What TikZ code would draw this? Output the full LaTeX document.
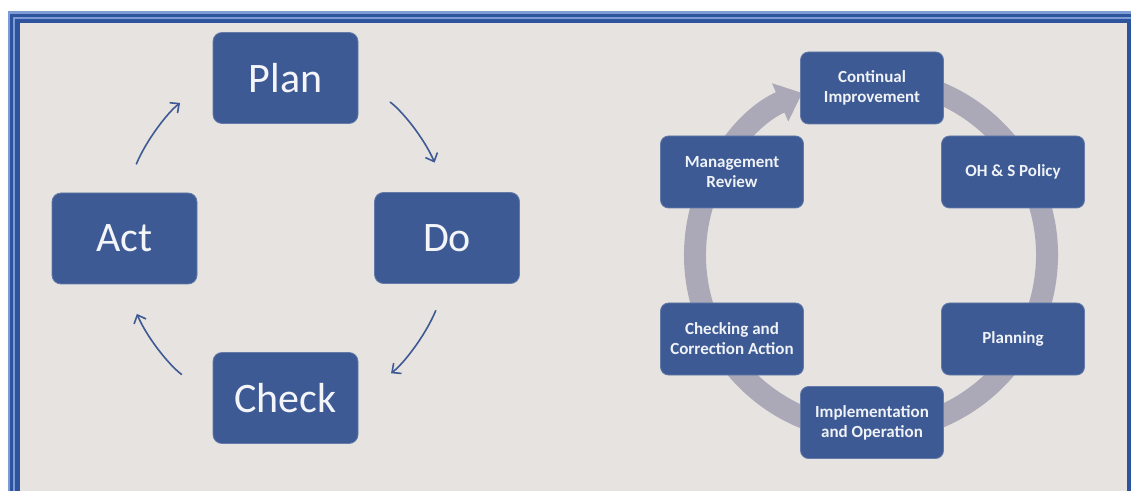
\documentclass[tikz,border=0pt]{standalone}
\usepackage{fontspec}
\setmainfont{Carlito}
\usetikzlibrary{arrows.meta}
\definecolor{boxblue}{RGB}{61,90,148}
\definecolor{ringgray}{RGB}{171,169,184}
\definecolor{paper}{RGB}{231,227,224}
\definecolor{frameblue}{RGB}{46,84,158}
\definecolor{framelight}{RGB}{125,155,212}

\begin{document}
\begin{tikzpicture}[x=1pt,y=1pt,>={Straight Barb[length=7pt,width=13pt]},
    bigbox/.style={fill=boxblue,draw=boxblue!80!white,line width=0.8pt,rounded corners=9pt,
        minimum width=145pt,minimum height=91pt,text=white!94!boxblue,
        font=\fontsize{42}{46}\selectfont},
    smallbox/.style={fill=boxblue,draw=boxblue!80!white,line width=0.8pt,rounded corners=8pt,
        minimum width=143pt,minimum height=72pt,text=white!92!boxblue,align=center,
        font=\fontsize{17}{20}\selectfont\bfseries},
    cyc/.style={->,boxblue,line width=1.6pt,line cap=round}]
            \useasboundingbox (0,0) rectangle (1131,490);
            \fill[white] (0,0) rectangle (1131,490);

            % draw the frame
            \begin{scope}
            \clip (0,0) rectangle (1131,490);
            \fill[framelight] (8,-100) rectangle (1139,479);
            \fill[frameblue] (10,-100) rectangle (1137,476);
            \fill[framelight] (13,-100) rectangle (1134,473);
            \fill[frameblue] (15,-100) rectangle (1132,471);
            \fill[paper] (20,-100) rectangle (1127,467);
            \end{scope}

            % pdca boxes
            \node[bigbox] (plan) at (285.5,412) {Plan};
            \node[bigbox] (do) at (447,252) {Do};
            \node[bigbox] (check) at (285.5,92) {Check};
            \node[bigbox] (act) at (124.5,251.5) {Act};

            % pdca arrows
            \draw[cyc,shorten <=31pt,shorten >=41pt] (act.north) to[bend left=15] (plan.west);
            \draw[cyc,shorten <=40pt,shorten >=32pt] (plan.east) to[bend left=15] (do.north);
            \draw[cyc,shorten <=29pt,shorten >=41pt] (do.south) to[bend left=15] (check.east);
            \draw[cyc,shorten <=39pt,shorten >=32pt] (check.west) to[bend left=15] (act.south);

            % ring with arrow
            \coordinate (hub) at (871,235);
            \draw[ringgray,line width=22pt,-{Triangle[length=24pt,width=40pt]}]
                (hub) ++(80:176) arc[start angle=80,end angle=-247,radius=176];

            % ohs boxes
            \node[smallbox] (improve) at (872,402) {Continual\\Improvement};
            \node[smallbox] (policy) at (1013,318) {OH \& S Policy};
            \node[smallbox] (planning) at (1013,151) {Planning};
            \node[smallbox] (operation) at (872,67.5) {Implementation\\and Operation};
            \node[smallbox] (correction) at (732,151) {Checking and\\Correction Action};
            \node[smallbox] (review) at (732,318) {Management\\Review};
\end{tikzpicture}
\end{document}
